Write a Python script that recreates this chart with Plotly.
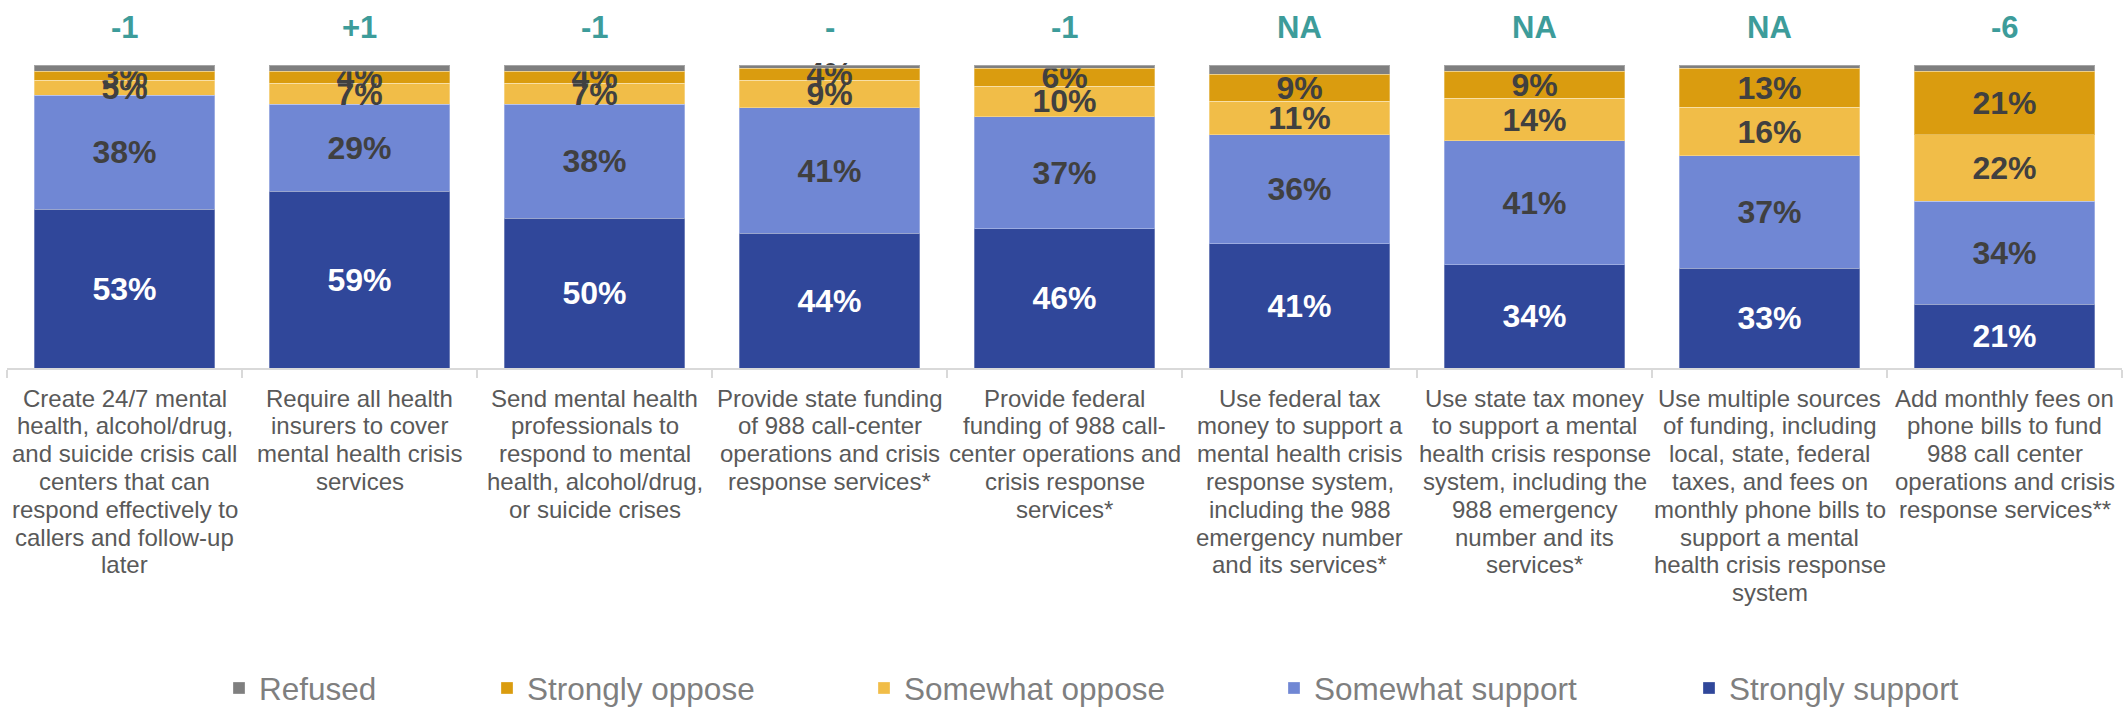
import plotly.graph_objects as go

# ---------------- data ----------------
CATEGORY_LINES = [
    ["Create 24/7 mental", "health, alcohol/drug,", "and suicide crisis call", "centers that can",
     "respond effectively to", "callers and follow-up", "later"],
    ["Require all health", "insurers to cover", "mental health crisis", "services"],
    ["Send mental health", "professionals to", "respond to mental", "health, alcohol/drug,",
     "or suicide crises"],
    ["Provide state funding", "of 988 call-center", "operations and crisis", "response services*"],
    ["Provide federal", "funding of 988 call-", "center operations and", "crisis response",
     "services*"],
    ["Use federal tax", "money to support a", "mental health crisis", "response system,",
     "including the 988", "emergency number", "and its services*"],
    ["Use state tax money", "to support a mental", "health crisis response", "system, including the",
     "988 emergency", "number and its", "services*"],
    ["Use multiple sources", "of funding, including", "local, state, federal", "taxes, and fees on",
     "monthly phone bills to", "support a mental", "health crisis response", "system"],
    ["Add monthly fees on", "phone bills to fund", "988 call center", "operations and crisis",
     "response services**"],
]
categories = [" ".join(lines) for lines in CATEGORY_LINES]

strongly_support = [53, 59, 50, 44, 46, 41, 34, 33, 21]
somewhat_support = [38, 29, 38, 41, 37, 36, 41, 37, 34]
somewhat_oppose = [5, 7, 7, 9, 10, 11, 14, 16, 22]
strongly_oppose = [3, 4, 4, 4, 6, 9, 9, 13, 21]
refused = [2, 2, 2, 1, 1, 3, 2, 1, 2]

change_labels = ["-1", "+1", "-1", "-", "-1", "NA", "NA", "NA", "-6"]

series_names = ["Strongly support", "Somewhat support", "Somewhat oppose", "Strongly oppose", "Refused"]
series_values = [strongly_support, somewhat_support, somewhat_oppose, strongly_oppose, refused]
series_colors = ["#30479A", "#7087D4", "#F1BD48", "#DA9C0F", "#7F7F7F"]
series_text_colors = ["#FFFFFF", "#404040", "#404040", "#404040", "#404040"]
series_show_text = [True, True, True, True, False]

# legend text start positions (px), left to right
legend_text_px = {"Refused": 259, "Strongly oppose": 527, "Somewhat oppose": 904,
                  "Somewhat support": 1314, "Strongly support": 1729}

W, H = 2125, 714
FONT = "Arial, Liberation Sans, sans-serif"

fig = go.Figure()
legend_keys = {}
for i, (name, vals, col, tcol, show) in enumerate(
        zip(series_names, series_values, series_colors, series_text_colors, series_show_text)):
    key = "legend" if i == 0 else f"legend{i + 1}"
    legend_keys[name] = key
    fig.add_trace(go.Bar(
        x=categories, y=vals, name=name,
        marker=dict(color=col, line=dict(width=1, color="rgba(255,255,255,0.3)")),
        text=[f"{v}%" for v in vals] if show else None,
        textposition="inside" if show else "none",
        insidetextanchor="middle",
        textangle=0,
        constraintext="none",
        textfont=dict(family=FONT, size=32, color=tcol, weight="bold"),
        cliponaxis=False,
        legend=key,
        hoverinfo="skip",
    ))

annotations = []
# change labels on top
for cat, lab in zip(categories, change_labels):
    annotations.append(dict(
        x=cat, y=1, xref="x", yref="paper", text=f"<b>{lab}</b>", showarrow=False,
        yanchor="middle", yshift=38,
        font=dict(family=FONT, size=31, color="#3D9C9A")))

# category labels (one annotation per wrapped line)
LINE_H = 27.8
FIRST_LINE_OFFSET = 30
for cat, lines in zip(categories, CATEGORY_LINES):
    for j, line in enumerate(lines):
        annotations.append(dict(
            x=cat, y=0, xref="x", yref="paper", text=line, showarrow=False,
            yanchor="middle", yshift=-(FIRST_LINE_OFFSET + j * LINE_H),
            font=dict(family=FONT, size=24, color="#595959")))

layout_legends = {}
for name, key in legend_keys.items():
    layout_legends[key] = dict(
        x=(legend_text_px[name] - 40) / W, y=1 - 688 / H,
        xref="container", yref="container", xanchor="left", yanchor="middle",
        orientation="h", bgcolor="rgba(0,0,0,0)", borderwidth=0,
        font=dict(family=FONT, size=31.5, color="#7F7F7F"),
    )

fig.update_layout(
    width=W, height=H,
    barmode="stack", barnorm="percent", bargap=0.23,
    margin=dict(l=7, r=3, t=65, b=346),
    paper_bgcolor="white", plot_bgcolor="white",
    showlegend=True,
    annotations=annotations,
    xaxis=dict(
        type="category", showticklabels=False, showgrid=False, zeroline=False,
        showline=True, linecolor="#D9D9D9", linewidth=2,
        ticks="outside", tickson="boundaries", ticklen=8, tickcolor="#D9D9D9", tickwidth=2,
    ),
    yaxis=dict(range=[0, 100], visible=False, showgrid=False, zeroline=False),
    **layout_legends,
)

fig.write_html(
    "out.html",
    config={"displayModeBar": False},
    post_script="document.body.style.margin='0';document.body.style.overflow='hidden';",
)
